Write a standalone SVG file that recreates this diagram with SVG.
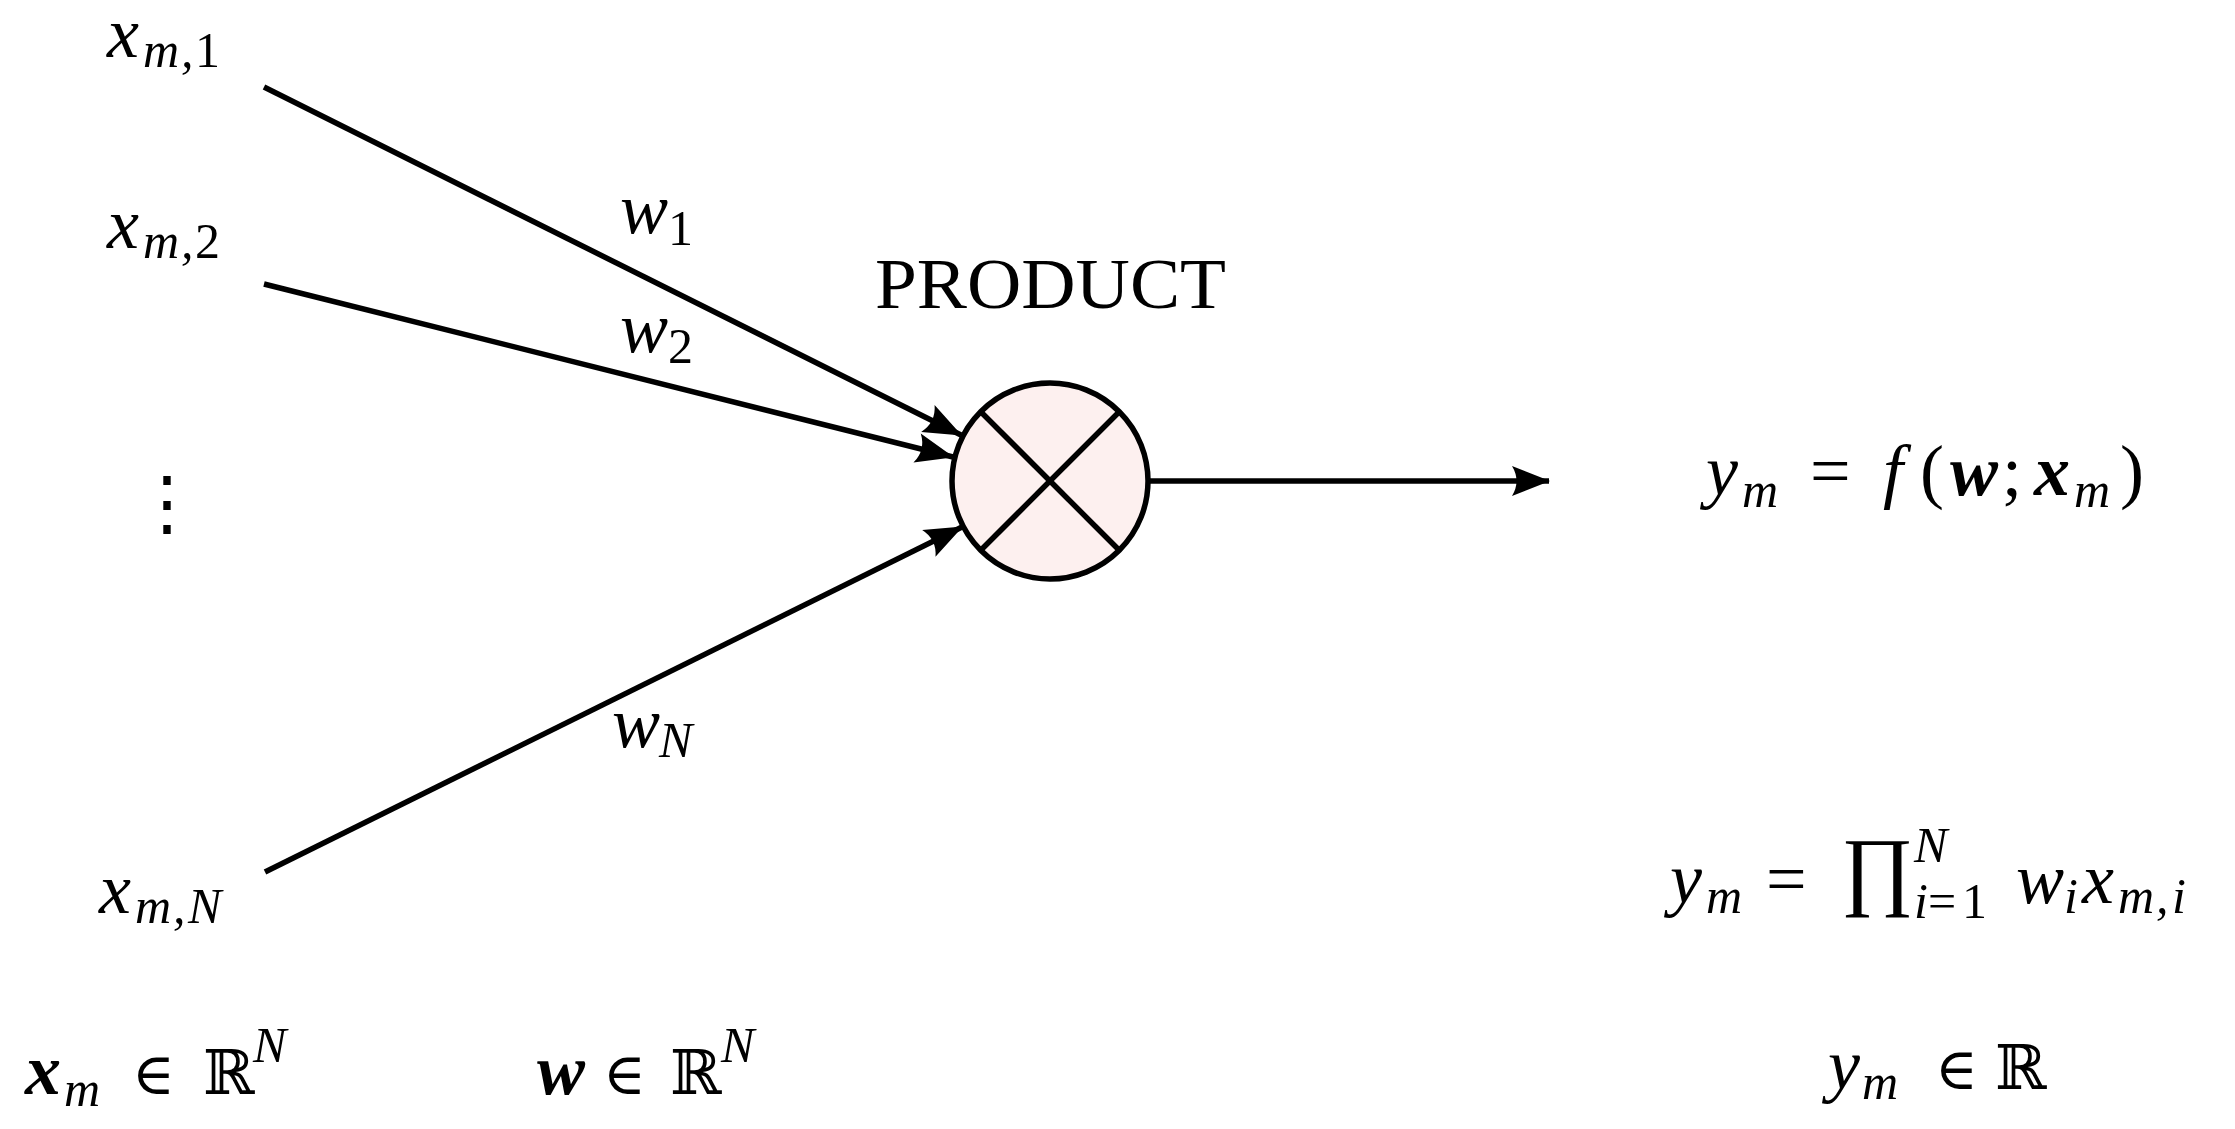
<svg xmlns="http://www.w3.org/2000/svg" width="2235" height="1129" viewBox="0 0 2235 1129">
<style>
text{fill:#000;font-family:"Liberation Serif","DejaVu Serif",serif;font-size:72px}
.m{font-style:italic}
.b{font-style:italic;font-weight:bold}
.s{font-size:50px}
.sy{font-family:"DejaVu Serif","Liberation Serif",serif;font-style:normal}
.conn{stroke:#000;stroke-width:5.5;fill:none}
.node{fill:#fdf0ef;stroke:#000;stroke-width:5.5}
.cross{stroke:#000;stroke-width:5.5}
</style>
<defs>
<marker id="arr" markerUnits="userSpaceOnUse" markerWidth="40" markerHeight="32" viewBox="0 0 40 32" refX="38" refY="16" orient="auto">
<path d="M39,16 L1,1 Q10,16 1,31 Z" fill="#000"/>
</marker>
</defs>
<g id="product">
<circle class="node" cx="1050" cy="481" r="98"/>
<line class="cross" x1="981" y1="412" x2="1119" y2="550"/>
<line class="cross" x1="1119" y1="412" x2="981" y2="550"/>
<text x="875" y="308" textLength="351" lengthAdjust="spacingAndGlyphs">PRODUCT</text>
</g>
<g id="connectors">
<line class="conn" x1="264" y1="87" x2="961" y2="435" marker-end="url(#arr)"/>
<line class="conn" x1="264" y1="284" x2="953" y2="457" marker-end="url(#arr)"/>
<line class="conn" x1="265" y1="872" x2="962" y2="527" marker-end="url(#arr)"/>
<line class="conn" x1="1148" y1="481" x2="1549" y2="481" marker-end="url(#arr)"/>
<text id="w1"><tspan class="m" x="620" y="233">w</tspan><tspan class="s" x="668" y="245">1</tspan></text>
<text id="w2"><tspan class="m" x="620" y="352">w</tspan><tspan class="s" x="668" y="363">2</tspan></text>
<text id="wN"><tspan class="m" x="612" y="747">w</tspan><tspan class="m s" x="659" y="757">N</tspan></text>
</g>
<g id="x1">
<text><tspan class="m" x="107" y="57">x</tspan><tspan class="m s" x="143" y="67">m</tspan><tspan class="m s" x="181" y="67">,</tspan><tspan class="s" x="195" y="67">1</tspan></text>
</g>
<g id="x2">
<text><tspan class="m" x="107" y="248">x</tspan><tspan class="m s" x="143" y="258">m</tspan><tspan class="m s" x="181" y="258">,</tspan><tspan class="s" x="195" y="258">2</tspan></text>
</g>
<g id="vdots">
<text class="sy" x="131" y="527" font-size="86">⋮</text>
</g>
<g id="xN">
<text><tspan class="m" x="99" y="913">x</tspan><tspan class="m s" x="135" y="923">m</tspan><tspan class="m s" x="173" y="923">,</tspan><tspan class="m s" x="188" y="923">N</tspan></text>
</g>
<g id="output">
<text><tspan class="m" x="1706" y="495">y</tspan><tspan class="m s" x="1742" y="507">m</tspan><tspan x="1810" y="495">=</tspan><tspan class="m" x="1883" y="495">f</tspan><tspan x="1920" y="495">(</tspan><tspan class="b" x="1950" y="495">w</tspan><tspan x="2002" y="495">;</tspan><tspan class="b" x="2034" y="495">x</tspan><tspan class="m s" x="2074" y="507">m</tspan><tspan x="2120" y="495">)</tspan></text>
</g>
<g id="formula">
<text><tspan class="m" x="1670" y="903">y</tspan><tspan class="m s" x="1706" y="913">m</tspan><tspan x="1766" y="903">=</tspan><tspan x="1841" y="899" font-size="88">∏</tspan><tspan class="m s" x="1914" y="862">N</tspan><tspan class="m s" x="1914" y="918">i</tspan><tspan class="s" x="1928" y="918">=</tspan><tspan class="s" x="1962" y="918">1</tspan><tspan class="m" x="2016" y="903">w</tspan><tspan class="m s" x="2064" y="913">i</tspan><tspan class="m" x="2082" y="903">x</tspan><tspan class="m s" x="2118" y="913">m</tspan><tspan class="m s" x="2156" y="913">,</tspan><tspan class="m s" x="2172" y="913">i</tspan></text>
</g>
<g id="domains">
<text><tspan class="b" x="25" y="1094">x</tspan><tspan class="m s" x="64" y="1106">m</tspan><tspan class="sy" x="132" y="1094" font-size="58">∈</tspan><tspan class="sy" x="203" y="1094" font-size="62">ℝ</tspan><tspan class="m s" x="253" y="1062">N</tspan></text>
<text><tspan class="b" x="537" y="1094">w</tspan><tspan class="sy" x="603" y="1094" font-size="58">∈</tspan><tspan class="sy" x="670" y="1094" font-size="62">ℝ</tspan><tspan class="m s" x="721" y="1062">N</tspan></text>
<text><tspan class="m" x="1828" y="1089">y</tspan><tspan class="m s" x="1862" y="1099">m</tspan><tspan class="sy" x="1935" y="1089" font-size="58">∈</tspan><tspan class="sy" x="1995" y="1089" font-size="62">ℝ</tspan></text>
</g>
</svg>
